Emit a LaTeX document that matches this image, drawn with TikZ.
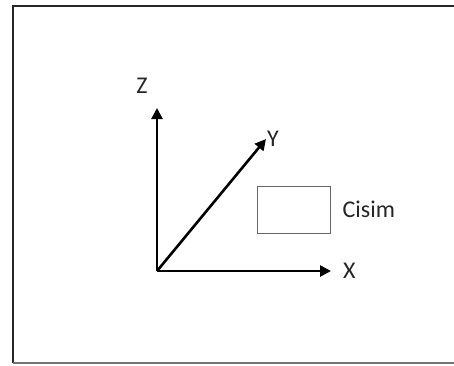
\documentclass[tikz,border=0pt]{standalone}
\usepackage{fontspec}
\setmainfont{Carlito}
\usetikzlibrary{arrows.meta, positioning}

\begin{document}
\begin{tikzpicture}[
    x=1pt, y=-1pt,
    >={Triangle[length=11pt, width=11pt]},
    font=\fontsize{24}{28}\selectfont,
    % Styles
    frame/.style={draw=black!85, line width=2pt},
    axis/.style={->, line width=2.6pt, black},
    objbox/.style={draw=black!60, line width=1pt, rectangle, minimum width=73pt, minimum height=47pt, inner sep=0pt},
    lbl/.style={inner sep=0pt, text=black!85}
]
\useasboundingbox (0,0) rectangle (454,365);

% 1. Outer frame (open on the right)
\draw[frame] (454,6) -- (13,6) -- (13,363);
\draw[frame, draw=black!55, line width=1.5pt] (13,363) -- (454,363);

% 2. Axes
\coordinate (origin) at (157,271);
\coordinate (ztip) at (157,108);
\coordinate (ytip) at (266,139);
\coordinate (xtip) at (331,271);

\draw[axis] (origin) -- (ztip);
\draw[axis] (origin) -- (ytip);
\draw[axis] (origin) -- (xtip);

\node[lbl] (zlabel) at (142,86) {Z};
\node[lbl, right=1pt of ytip] (ylabel) {Y};
\node[lbl, right=12pt of xtip] (xlabel) {X};

% 3. Object
\node[objbox] (cisimbox) at (293.5,209.5) {};
\node[lbl, right=12pt of cisimbox] (cisim) {Cisim};

\end{tikzpicture}
\end{document}
